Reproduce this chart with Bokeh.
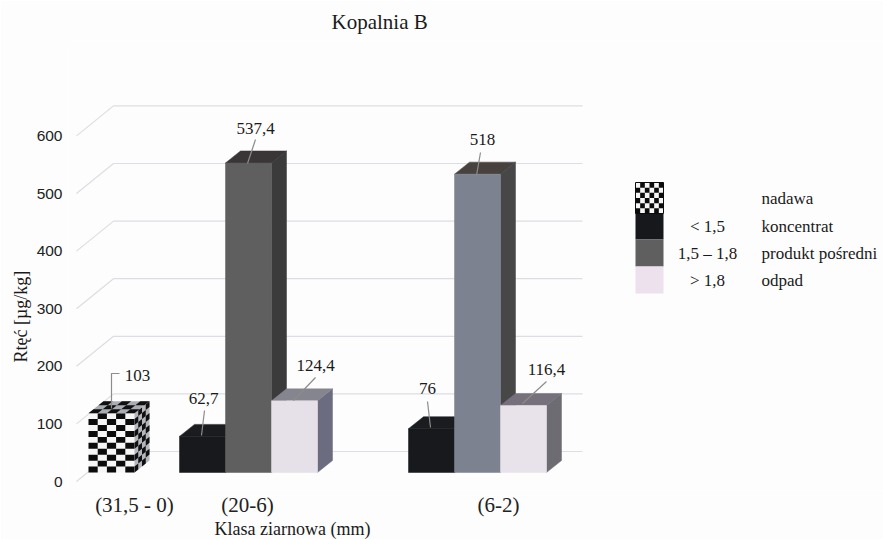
from bokeh.plotting import figure
from bokeh.models import Range1d, FixedTicker, Title
from bokeh.core.properties import value
from bokeh.embed import file_html
from bokeh.resources import INLINE

# ---- data ----
title_text = "Kopalnia B"
x_title = "Klasa ziarnowa (mm)"
y_title = "Rtęć [µg/kg]"
y_ticks = [0, 100, 200, 300, 400, 500, 600]
classes = ["(31,5 - 0)", "(20-6)", "(6-2)"]
nadawa = [103]
koncentrat = [62.7, 76]
posredni = [537.4, 518]
odpad = [124.4, 116.4]
legend_names = ["nadawa", "koncentrat", "produkt pośredni", "odpad"]
legend_ranges = ["", "< 1,5", "1,5 – 1,8", "> 1,8"]

# ---- geometry (x scale is in picture pixels) ----
K = 0.576                # pixels per data unit
ZERO_PX = 481
def v(px):               # picture pixel row -> data value
    return (ZERO_PX - px) / K
BASE = v(472)            # bars stand forward of the tick plane
DX, DY = 15, 12 / K
BAR_W = 46
SERIF = value("Liberation Serif")
BG = "#fdfdfd"

p = figure(width=883, height=539, output_backend="svg", toolbar_location=None,
           x_range=Range1d(68, 883), y_range=Range1d(v(490), v(40)),
           min_border_left=68, min_border_right=0, min_border_top=40, min_border_bottom=49,
           background_fill_color=BG, border_fill_color=BG, outline_line_color=None)
p.grid.visible = False

p.title.text = title_text
p.title.text_font = "Liberation Serif"
p.title.text_font_size = "21px"
p.title.text_font_style = "normal"
p.title.text_color = "#1a1a1a"
p.title.align = "left"
p.title.offset = 263
p.title.standoff = 13

ax = p.yaxis[0]
ax.ticker = FixedTicker(ticks=y_ticks)
ax.axis_line_color = None
ax.major_tick_line_color = None
ax.minor_tick_line_color = None
ax.major_tick_out = 0
ax.major_label_text_font = "Liberation Sans"
ax.major_label_text_font_size = "15.5px"
ax.major_label_text_color = "#222222"
ax.major_label_standoff = 6

bx = p.xaxis[0]
tick_x = [134, 247, 498]
bx.ticker = FixedTicker(ticks=tick_x)
bx.major_label_overrides = {t: c for t, c in zip(tick_x, classes)}
bx.axis_line_color = None
bx.major_tick_line_color = None
bx.minor_tick_line_color = None
bx.major_tick_out = 0
bx.major_label_text_font = "Liberation Serif"
bx.major_label_text_font_size = "21px"
bx.major_label_text_color = "#222222"
bx.major_label_standoff = 2

p.add_layout(Title(text=x_title, text_font="Liberation Serif", text_font_size="18px",
                   text_font_style="normal", text_color="#1a1a1a",
                   align="left", offset=146, standoff=-6), "below")
p.add_layout(Title(text=y_title, text_font="Liberation Serif", text_font_size="18px",
                   text_font_style="normal", text_color="#1a1a1a",
                   align="left", offset=128, standoff=5), "left")

# ---- gridlines: side wall slant + back wall ----
GRID = "#dddde3"
p.multi_line(xs=[[76, 113, 582] for _ in y_ticks],
             ys=[[t, t + 30 / K, t + 30 / K] for t in y_ticks],
             line_color=GRID, line_width=1.2)

def bar(x0, val, front, side, top):
    y0, y1 = BASE, BASE + val
    x1 = x0 + BAR_W
    p.patches(xs=[[x1, x1 + DX, x1 + DX, x1]], ys=[[y0, y0 + DY, y1 + DY, y1]],
              fill_color=side, line_color=side, line_width=0.5)
    p.patches(xs=[[x0, x0 + DX, x1 + DX, x1]], ys=[[y1, y1 + DY, y1 + DY, y1]],
              fill_color=top, line_color=top, line_width=0.5)
    p.quad(left=[x0], right=[x1], bottom=[y0], top=[y1],
           fill_color=front, line_color=front, line_width=0.5)

def checker_quads(x0, x1, y0, y1, nx, ny):
    L, R, B, T = [], [], [], []
    w, h = (x1 - x0) / nx, (y1 - y0) / ny
    for i in range(nx):
        for j in range(ny):
            if (i + j) % 2 == 0:
                L.append(x0 + i * w); R.append(x0 + (i + 1) * w)
                B.append(y0 + j * h); T.append(y0 + (j + 1) * h)
    return L, R, B, T

# ---- checkered feed cube ----
cx0 = 88
cx1 = cx0 + BAR_W
cy0, cy1 = BASE, BASE + nadawa[0]
p.quad(left=[cx0], right=[cx1], bottom=[cy0], top=[cy1], fill_color="#f6f6f6", line_color=None)
L, R, B, T = checker_quads(cx0, cx1, cy0, cy1, 5, 10)
p.quad(left=L, right=R, bottom=B, top=T, fill_color="#0c0c0c", line_color=None)
# side face
p.patches(xs=[[cx1, cx1 + DX, cx1 + DX, cx1]], ys=[[cy0, cy0 + DY, cy1 + DY, cy1]],
          fill_color="#b4b6bc", line_color=None)
sx, sy = [], []
for i in range(4):
    for j in range(10):
        if (i + j) % 2 == 0:
            a, b = i / 4, (i + 1) / 4
            h = (cy1 - cy0) / 10
            sx.append([cx1 + a * DX, cx1 + b * DX, cx1 + b * DX, cx1 + a * DX])
            sy.append([cy0 + j * h + a * DY, cy0 + j * h + b * DY,
                       cy0 + (j + 1) * h + b * DY, cy0 + (j + 1) * h + a * DY])
p.patches(xs=sx, ys=sy, fill_color="#101010", line_color=None)
# top face
p.patches(xs=[[cx0, cx0 + DX, cx1 + DX, cx1]], ys=[[cy1, cy1 + DY, cy1 + DY, cy1]],
          fill_color="#a9adb3", line_color=None)
tx, ty = [], []
for i in range(5):
    for j in range(3):
        if (i + j) % 2 == 0:
            w = BAR_W / 5
            a, b = j / 3, (j + 1) / 3
            xl = cx0 + i * w
            tx.append([xl + a * DX, xl + w + a * DX, xl + w + b * DX, xl + b * DX])
            ty.append([cy1 + a * DY, cy1 + a * DY, cy1 + b * DY, cy1 + b * DY])
p.patches(xs=tx, ys=ty, fill_color="#101010", line_color=None)

# ---- solid bars ----
bar(179, koncentrat[0], "#17191d", "#17191d", "#1b1c20")
bar(225, posredni[0], "#5f5f5f", "#3b3b3b", "#3a3537")
bar(271, odpad[0], "#e6e0e8", "#6c6c80", "#85858f")
bar(408, koncentrat[1], "#17191d", "#17191d", "#1b1c20")
bar(454, posredni[1], "#7d8290", "#474747", "#48423f")
bar(500, odpad[1], "#e8e3ea", "#6d6c72", "#75707c")

# ---- value labels and leaders ----
all_vals = [nadawa[0], koncentrat[0], posredni[0], odpad[0], koncentrat[1], posredni[1], odpad[1]]
lab_x = [137, 203, 255, 315, 427, 482, 546]
lab_px = [375, 398, 128, 365, 388, 139, 369]
p.text(x=lab_x, y=[v(q) for q in lab_px],
       text=[str(a).replace(".", ",") for a in all_vals],
       text_font=SERIF, text_font_size="17px", text_color="#1a1a1a",
       text_align="center", text_baseline="middle")
lead_x = [[119, 111, 111], [204, 201], [255, 247], [315, 293], [427, 430], [480, 476], [546, 522]]
lead_px = [[373, 373, 408], [410, 435], [139, 163], [377, 400], [401, 427], [152, 175], [381, 403]]
p.multi_line(xs=lead_x, ys=[[v(q) for q in r] for r in lead_px],
             line_color="#8c8c8c", line_width=1.2)

# ---- legend ----
sw_l, sw_r = 635, 663
sw_px = [182, 213, 239, 266, 293]
sw_col = ["#f6f6f6", "#16181c", "#5f5f60", "#ece1ec"]
p.quad(left=[sw_l] * 4, right=[sw_r] * 4,
       top=[v(q) for q in sw_px[:-1]], bottom=[v(q) for q in sw_px[1:]],
       fill_color=sw_col, line_color=None)
L, R, B, T = checker_quads(sw_l, sw_r, v(sw_px[1]), v(sw_px[0]), 6, 6)
p.quad(left=L, right=R, bottom=B, top=T, fill_color="#0c0c0c", line_color=None)
p.quad(left=[sw_l], right=[sw_r], bottom=[v(sw_px[1])], top=[v(sw_px[0])],
       fill_color=None, line_color="#0c0c0c", line_width=1)
row_px = [198, 226, 253, 280]
p.text(x=[707] * 4, y=[v(q) for q in row_px], text=legend_ranges, text_font=SERIF,
       text_font_size="17px", text_color="#1a1a1a", text_align="center", text_baseline="middle")
p.text(x=[761] * 4, y=[v(q) for q in row_px], text=legend_names, text_font=SERIF,
       text_font_size="17px", text_color="#1a1a1a", text_align="left", text_baseline="middle")

open("out.html", "w").write(file_html(p, INLINE))
